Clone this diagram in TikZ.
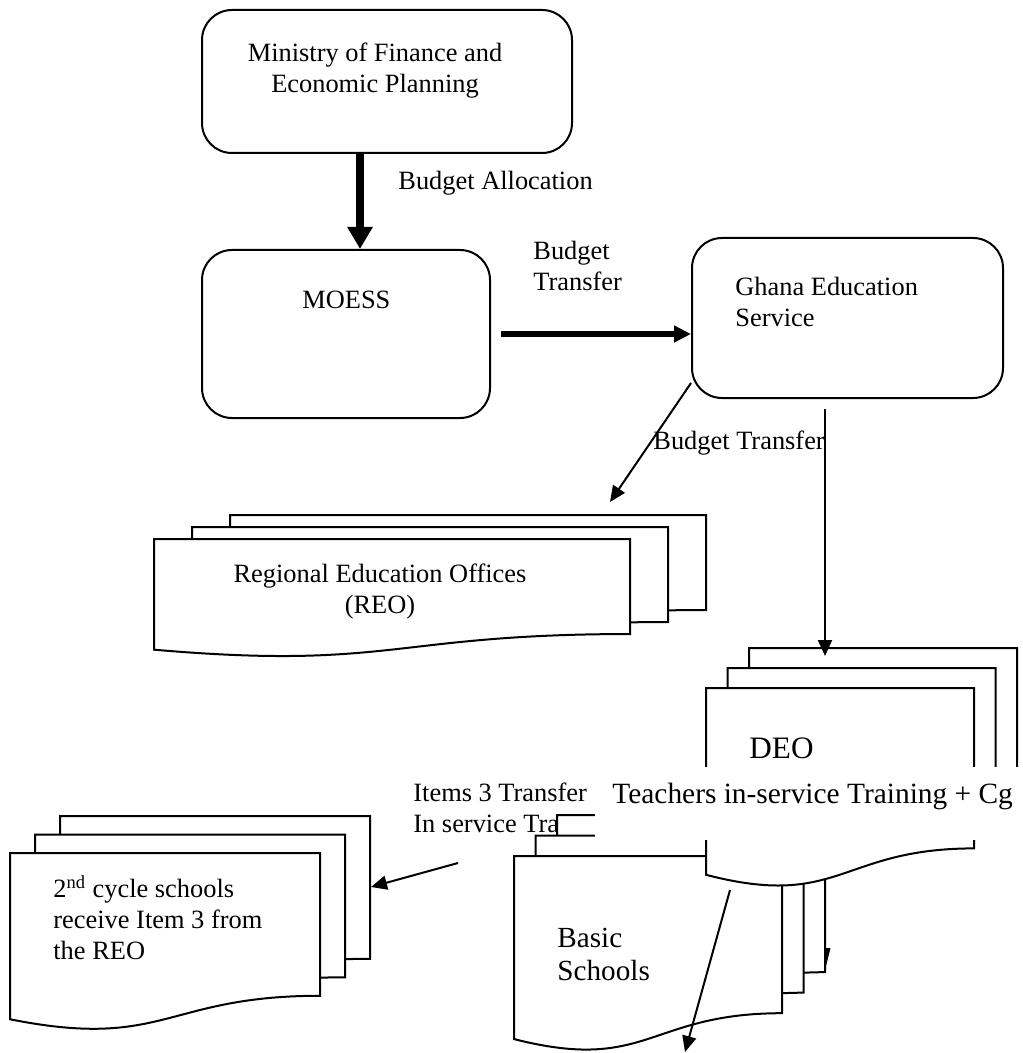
\documentclass[tikz,border=0pt]{standalone}
\usepackage{fontspec}
\setmainfont{Liberation Serif}
\usetikzlibrary{arrows.meta,fit,positioning}

% one sheet of a stack, wavy bottom edge
\newcommand{\docpage}[4]{%
  \filldraw[page, shift={(#1,#2)}, xscale=#3, yscale=#4]
    (0,0) -- (1,0) -- (1,0.802)
    .. controls (0.5,0.802) and (0.5,1.108) .. (0,0.934) -- cycle;}

\tikzset{
  rbox/.style={draw, line width=1pt, rounded corners=15pt, inner sep=0pt},
  page/.style={draw=black, fill=white, line width=1pt},
  cover/.style={fill=white, inner sep=0pt},
  txt/.style={font=\fontsize{13.2}{15.5}\selectfont, inner sep=0pt, anchor=base west, align=left},
  heavyarrow/.style={draw, line width=4pt, -{Triangle[length=11pt,width=12pt]}},
  boldarrow/.style={draw, line width=3pt, -{Triangle[length=8.5pt,width=8pt]}},
  flowarrow/.style={draw, line width=1pt, -{Triangle[length=8pt,width=7pt]}}
}

\begin{document}
\begin{tikzpicture}[x=0.5pt,y=-0.5pt]
            \useasboundingbox (0,0) rectangle (1022,1053);

            % rounded boxes
            \node[rbox, fit={(202,10) (572,153)}] (mofep) {};
            \node[rbox, fit={(202,250) (490,418)}] (moess) {};
            \node[rbox, fit={(692,238) (1003,398)}] (ges) {};
            \node[txt, anchor=base, align=center] (mofep-t) at (375,93) {Ministry of Finance and\\Economic Planning};
            \node[txt] (moess-t) at (302,308) {MOESS};
            \node[txt] (ges-t) at (735,327) {Ghana Education\\Service};

            % labels
            \node[txt] (alloc) at (398,190) {Budget Allocation};
            \node[txt] (trans1) at (533,291) {Budget\\Transfer};
            \node[txt] (trans2) at (653,449) {Budget Transfer};

            % REO stack
            \docpage{230}{515}{476}{118.5}
            \docpage{192}{527}{476}{118.5}
            \docpage{154}{539}{476}{118.5}
            \node[txt, anchor=base, align=center] (reo-t) at (380,613) {Regional Education Offices\\(REO)};

            % 2nd cycle stack
            \docpage{60}{816}{310}{178}
            \docpage{35}{834.5}{310}{178}
            \docpage{10}{853}{310}{178}
            \node[txt] (cyc-t) at (53,959) {2\textsuperscript{nd} cycle schools\\receive Item 3 from\\the REO};

            \node[txt] (items) at (413,832) {Items 3 Transfer\\In service Tra};

            % basic schools stack
            \fill (826,948) -- (830.5,948) -- (826,966) -- cycle;
            \docpage{557}{815}{268}{196}
            \docpage{535.5}{835.5}{268}{196}
            \docpage{514}{856}{268}{196}
            \node[txt, font=\fontsize{14.6}{16.5}\selectfont] (bs-t) at (557,980) {Basic\\Schools};

            % DEO stack
            \docpage{749}{648}{268}{200}
            \docpage{727.5}{668}{268}{200}
            \docpage{706}{688}{268}{200}
            \node[txt, font=\fontsize{15.6}{18}\selectfont] (deo-t) at (749,758) {DEO};

            \node[cover, fit={(595,767) (1022,840)}] (tbox) {};
            \node[txt, font=\fontsize{14.7}{17}\selectfont] (teach) at (612,803) {Teachers in-service Training + Cg};

            % connectors
            \coordinate (a1) at ([xshift=-13.5pt]mofep.south);
            \coordinate (g4) at ([xshift=-11.25pt,yshift=-5pt]ges.south);
            \coordinate (reo-in) at (610,502);
            \coordinate (deo-in) at (825,656);
            \coordinate (i3) at (458,863);
            \coordinate (cyc-in) at (371,887);
            \coordinate (d6) at (730,890);
            \coordinate (bs-out) at (685,1052);

            \path
            (a1) edge[heavyarrow] (a1 |- moess.north)
            ([xshift=5pt]moess.east) edge[boldarrow] (moess.east -| ges.west)
            ([yshift=-32.5pt]ges.west) edge[flowarrow] (reo-in)
            (g4) edge[flowarrow] (deo-in)
            (i3) edge[flowarrow] (cyc-in)
            (d6) edge[flowarrow] (bs-out);

\end{tikzpicture}
\end{document}
